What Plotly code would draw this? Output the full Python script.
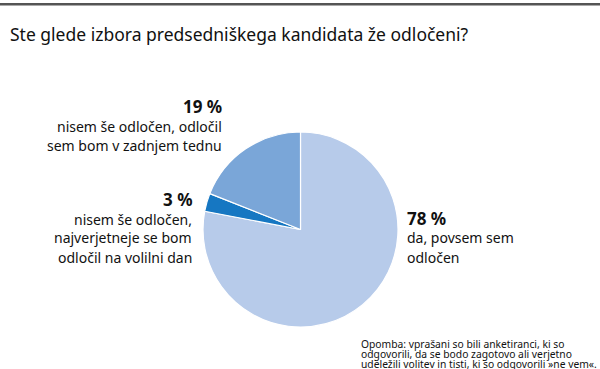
import plotly.graph_objects as go

labels = ["da, povsem sem odločen",
          "nisem še odločen, najverjetneje se bom odločil na volilni dan",
          "nisem še odločen, odločil sem bom v zadnjem tednu"]
values = [78, 3, 19]
colors = ["#b7cbea", "#1677c2", "#7aa6d8"]

W, H = 600, 369
def px(x): return x / W
def py(y): return 1 - y / H

FONT = "Noto Sans"

fig = go.Figure()
# empty helper trace: its hidden axes supply the top rule (the x-axis line)
fig.add_trace(go.Scatter(x=[None], y=[None], mode="markers", showlegend=False, hoverinfo="skip"))
fig.add_trace(go.Pie(
    labels=labels, values=values, sort=False, direction="clockwise", rotation=0,
    marker=dict(colors=colors, line=dict(color="white", width=1.2)),
    textinfo="none", hoverinfo="label+percent",
    domain=dict(x=[px(203), px(398)], y=[py(327), py(132)]),
    showlegend=False,
))

ann = []
def add(x, y, text, size, anchor, bold=False, family=FONT):
    ann.append(dict(x=px(x), y=py(y), xref="paper", yref="paper", text=f"<b>{text}</b>" if bold else text,
                    showarrow=False, xanchor=anchor, yanchor="middle", align=anchor,
                    font=dict(family=family, size=size, color="#111111")))

add(8, 34, "Ste glede izbora predsedniškega kandidata že odločeni?", 17.5, "left")
# 19 %
add(224, 106, f"{values[2]} %", 17, "right", bold=True)
add(224, 126, "nisem še odločen, odločil", 14, "right")
add(224, 145, "sem bom v zadnjem tednu", 14, "right")
# 3 %
add(194, 200, f"{values[1]} %", 17, "right", bold=True)
add(194, 219, "nisem še odločen,", 14, "right")
add(194, 238, "najverjetneje se bom", 14, "right")
add(194, 257, "odločil na volilni dan", 14, "right")
# 78 %
add(405, 218, f"{values[0]} %", 17, "left", bold=True)
add(405, 238, "da, povsem sem", 14, "left")
add(405, 257, "odločen", 14, "left")
# note
add(359, 343.5, "Opomba: vprašani so bili anketiranci, ki so", 10.3, "left")
add(359, 354, "odgovorili, da se bodo zagotovo ali verjetno", 10.3, "left")
add(359, 364, "udeležili volitev in tisti, ki so odgovorili »ne vem«.", 10.3, "left")

fig.update_layout(
    width=W, height=H, margin=dict(l=0, r=0, t=0, b=0),
    paper_bgcolor="white", plot_bgcolor="rgba(0,0,0,0)",
    xaxis=dict(range=[0, 1], domain=[0, 1], side="top", showline=True, linecolor="#555555",
               linewidth=2, showgrid=False, zeroline=False, showticklabels=False, ticks="",
               fixedrange=True),
    yaxis=dict(range=[0, 1], domain=[0, py(4.5)], showline=False, showgrid=False, zeroline=False,
               showticklabels=False, ticks="", fixedrange=True),
    annotations=ann,
    shapes=[dict(type="line", xref="paper", yref="paper", x0=0, x1=1, y0=py(4.5), y1=py(4.5),
                 line=dict(color="#555555", width=2), layer="above")],
)
fig.write_html("out.html", config={"displayModeBar": False},
               post_script="document.body.style.margin='0px';document.body.style.overflow='hidden';")
